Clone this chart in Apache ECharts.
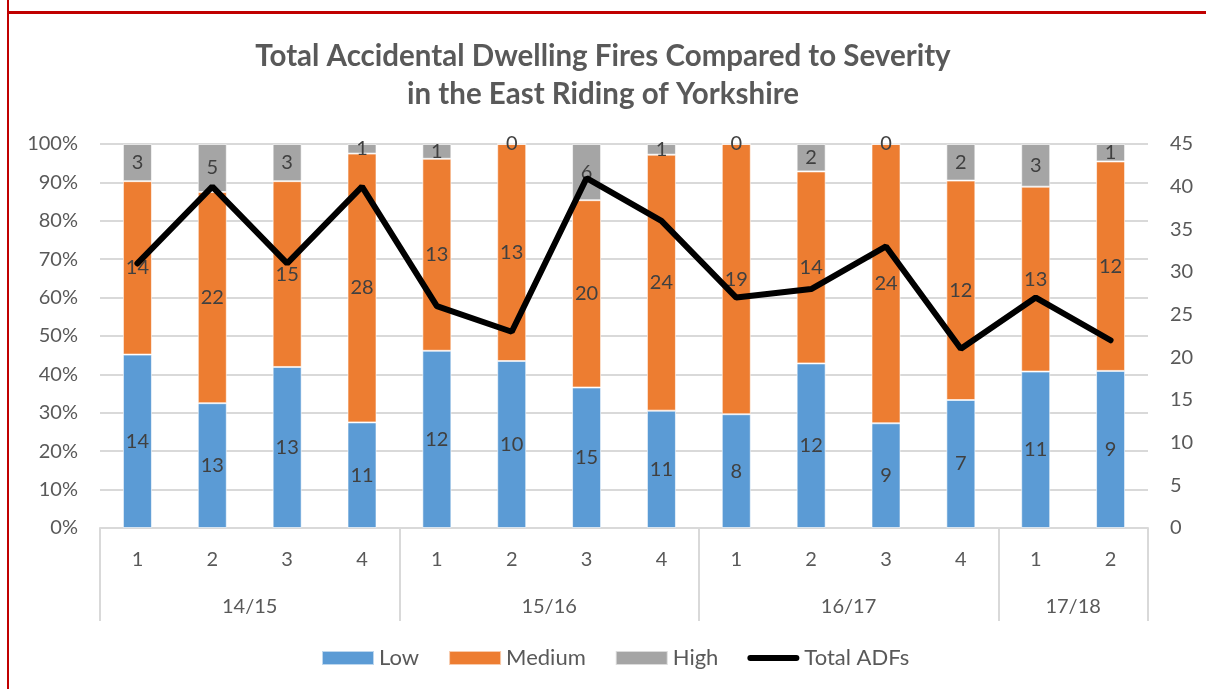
<!DOCTYPE html>
<html>
<head>
<meta charset="utf-8">
<script src="https://cdn.jsdelivr.net/npm/echarts@6/dist/echarts.min.js"></script>
<style>
  html, body { margin: 0; padding: 0; background: #fff; }
  #chart { width: 1206px; height: 689px; }
</style>
</head>
<body>
<div id="chart"></div>
<script>
// 每季度的火灾数据
const quarters = ["1", "2", "3", "4", "1", "2", "3", "4", "1", "2", "3", "4", "1", "2"];
const groups = ["14/15", "15/16", "16/17", "17/18"];
const groupSizes = [4, 4, 4, 2];
const low = [14, 13, 13, 11, 12, 10, 15, 11, 8, 12, 9, 7, 11, 9];
const medium = [14, 22, 15, 28, 13, 13, 20, 24, 19, 14, 24, 12, 13, 12];
const high = [3, 5, 3, 1, 1, 0, 6, 1, 0, 2, 0, 2, 3, 1];
const totalADFs = [31, 40, 31, 40, 26, 23, 41, 36, 27, 28, 33, 21, 27, 22];

const font = "Lato";
const textColor = "#595959";
const gridColor = "#d9d9d9";

// 分组边界和中心
let bounds = [0];
let centers = [];
groupSizes.forEach((n) => {
  const start = bounds[bounds.length - 1];
  centers.push(start + n / 2);
  bounds.push(start + n);
});

const pct = (arr) =>
  arr.map((v, i) => {
    const sum = low[i] + medium[i] + high[i];
    return { value: (v / sum) * 100, raw: v };
  });

const barSeries = (name, arr, color) => ({
  name: name,
  type: "bar",
  stack: "sev",
  barWidth: 29,
  data: pct(arr),
  itemStyle: { color: color, borderColor: "rgba(255,255,255,0.6)", borderWidth: 1 },
  label: {
    show: true,
    position: "inside",
    formatter: (p) => p.data.raw,
    fontSize: 20,
    fontFamily: font,
    color: "#404040",
  },
});

// 图例里的粗线
const lineIcon = "path://M3,0 L49,0 A3,3 0 0 1 49,6 L3,6 A3,3 0 0 1 3,0 Z";

const chart = echarts.init(document.getElementById("chart"));
chart.setOption({
  animation: false,
  title: {
    text: "Total Accidental Dwelling Fires Compared to Severity\nin the East Riding of Yorkshire",
    left: "center",
    top: 32,
    textStyle: {
      fontFamily: font,
      fontSize: 29.5,
      fontWeight: "bold",
      color: textColor,
      lineHeight: 38,
    },
  },
  graphic: [
    { type: "rect", shape: { x: 7, y: 0, width: 2, height: 689 }, style: { fill: "#c00000" } },
    { type: "rect", shape: { x: 7, y: 11, width: 1199, height: 3 }, style: { fill: "#c00000" } },
  ],
  grid: { left: 100, right: 58, top: 144, bottom: 161 },
  legend: {
    left: 316,
    top: 642,
    itemWidth: 52,
    itemHeight: 14,
    itemGap: 29,
    textStyle: { fontFamily: font, fontSize: 22, color: textColor },
    data: [
      { name: "Low", icon: "rect" },
      { name: "Medium", icon: "rect" },
      { name: "High", icon: "rect" },
      { name: "Total ADFs", icon: lineIcon },
    ],
  },
  xAxis: [
    {
      type: "category",
      data: quarters,
      axisLine: { lineStyle: { color: gridColor, width: 2 } },
      axisTick: { show: false },
      axisLabel: { margin: 22, fontSize: 20, fontFamily: font, color: textColor },
    },
    {
      type: "value",
      min: 0,
      max: quarters.length,
      position: "bottom",
      axisLine: { show: false },
      splitLine: { show: false },
      axisTick: {
        show: true,
        customValues: bounds,
        length: 93,
        lineStyle: { color: gridColor, width: 2 },
      },
      axisLabel: {
        customValues: centers,
        margin: 69,
        fontSize: 20,
        fontFamily: font,
        color: textColor,
        formatter: (v) => groups[centers.indexOf(v)] || "",
      },
    },
  ],
  yAxis: [
    {
      type: "value",
      min: 0,
      max: 100,
      interval: 10,
      axisLine: { show: false },
      axisTick: { show: false },
      splitLine: { lineStyle: { color: gridColor, width: 2 } },
      axisLabel: { formatter: "{value}%", margin: 22, fontSize: 20, fontFamily: font, color: textColor },
    },
    {
      type: "value",
      min: 0,
      max: 45,
      interval: 5,
      axisLine: { show: false },
      axisTick: { show: false },
      splitLine: { show: false },
      axisLabel: { margin: 22, fontSize: 20, fontFamily: font, color: textColor },
    },
  ],
  series: [
    barSeries("Low", low, "#5b9bd5"),
    barSeries("Medium", medium, "#ed7d31"),
    barSeries("High", high, "#a5a5a5"),
    {
      name: "Total ADFs",
      type: "line",
      yAxisIndex: 1,
      data: totalADFs,
      symbol: "none",
      lineStyle: { color: "#000", width: 6, cap: "round" },
      itemStyle: { color: "#000" },
      z: 5,
    },
  ],
});
</script>
</body>
</html>
